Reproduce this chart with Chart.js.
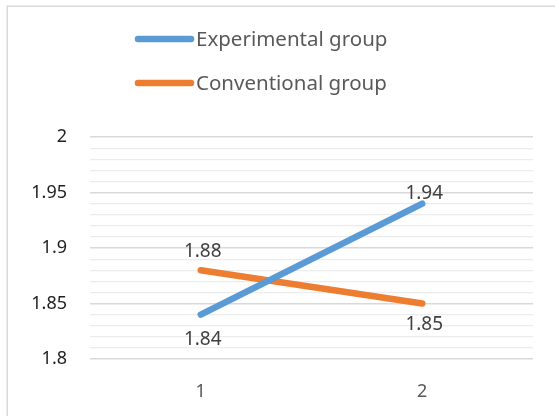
<!DOCTYPE html>
<html>
<head>
<meta charset="utf-8">
<script src="https://cdn.jsdelivr.net/npm/chart.js@4.4.1/dist/chart.umd.min.js"></script>
<style>
  html, body { margin: 0; padding: 0; background: #ffffff; overflow: hidden; }
  canvas { display: block; }
</style>
</head>
<body>
<canvas id="chart" width="555" height="416"></canvas>
<script>
// Chart data
const categories = ['1', '2'];
const seriesNames = ['Experimental group', 'Conventional group'];
const experimentalValues = [1.84, 1.94];
const conventionalValues = [1.88, 1.85];
const yTickLabels = [1.8, 1.85, 1.9, 1.95, 2];

// Styling
const FONT = '"Noto Sans", "Open Sans", sans-serif';
const seriesColors = ['#5b9bd5', '#ed7d31'];
// vertical offset (px) of each value label from its point
const labelOffsets = [[25, -10], [-19, 21]];

const isMajor = v => yTickLabels.includes(Math.round(v * 100) / 100);

// Light frame around the chart
const framePlugin = {
  id: 'frame',
  beforeDraw(chart) {
    const ctx = chart.ctx;
    ctx.save();
    ctx.fillStyle = '#ffffff';
    ctx.fillRect(0, 0, chart.width, chart.height);
    ctx.strokeStyle = '#d9d9d9';
    ctx.lineWidth = 1.5;
    ctx.strokeRect(7.25, 6.25, chart.width + 20, chart.height + 20);
    ctx.restore();
  }
};

// Stacked legend with line samples
const legendPlugin = {
  id: 'stackedLegend',
  afterDraw(chart) {
    const ctx = chart.ctx;
    ctx.save();
    ctx.font = '20.5px ' + FONT;
    ctx.textBaseline = 'middle';
    ctx.textAlign = 'left';
    chart.data.datasets.forEach((ds, i) => {
      const y = 39 + i * 44;
      ctx.strokeStyle = ds.borderColor;
      ctx.lineWidth = 6.5;
      ctx.lineCap = 'round';
      ctx.beginPath();
      ctx.moveTo(138, y);
      ctx.lineTo(191, y);
      ctx.stroke();
      ctx.fillStyle = '#595959';
      ctx.fillText(ds.label, 196, y + 1);
    });
    ctx.restore();
  }
};

// Value labels next to each point
const valueLabelPlugin = {
  id: 'valueLabels',
  afterDatasetsDraw(chart) {
    const ctx = chart.ctx;
    ctx.save();
    ctx.font = '19px ' + FONT;
    ctx.fillStyle = '#404040';
    ctx.textAlign = 'center';
    ctx.textBaseline = 'middle';
    chart.data.datasets.forEach((ds, i) => {
      const meta = chart.getDatasetMeta(i);
      meta.data.forEach((pt, j) => {
        ctx.fillText(String(ds.data[j]), pt.x + 2, pt.y + labelOffsets[i][j]);
      });
    });
    ctx.restore();
  }
};

new Chart(document.getElementById('chart'), {
  type: 'line',
  data: {
    labels: categories,
    datasets: [
      {
        label: seriesNames[0],
        data: experimentalValues,
        borderColor: seriesColors[0],
        backgroundColor: seriesColors[0],
        borderWidth: 6.5,
        borderCapStyle: 'round',
        pointRadius: 0,
        tension: 0
      },
      {
        label: seriesNames[1],
        data: conventionalValues,
        borderColor: seriesColors[1],
        backgroundColor: seriesColors[1],
        borderWidth: 6.5,
        borderCapStyle: 'round',
        pointRadius: 0,
        tension: 0
      }
    ]
  },
  options: {
    responsive: false,
    animation: false,
    devicePixelRatio: 1,
    layout: { padding: { top: 137, left: 0, right: 22, bottom: 0 } },
    plugins: {
      legend: { display: false },
      tooltip: { enabled: false },
      title: { display: false }
    },
    scales: {
      x: {
        type: 'category',
        offset: true,
        grid: { display: false, drawTicks: false },
        border: { display: false },
        ticks: {
          padding: 22,
          color: '#595959',
          font: { family: FONT, size: 18 }
        },
        afterFit(scale) { scale.height = 57; }
      },
      y: {
        min: 1.8,
        max: 2,
        grid: {
          drawTicks: false,
          color: ctx => isMajor(ctx.tick.value) ? '#d9d9d9' : '#ececec',
          lineWidth: ctx => isMajor(ctx.tick.value) ? 1.6 : 1.2
        },
        border: { display: false },
        ticks: {
          stepSize: 0.01,
          autoSkip: false,
          maxTicksLimit: 40,
          padding: 23,
          color: '#1f1f1f',
          font: { family: FONT, size: 18 },
          callback: v => isMajor(v) ? String(Math.round(v * 100) / 100) : ''
        },
        afterFit(scale) { scale.width = 90; }
      }
    }
  },
  plugins: [framePlugin, legendPlugin, valueLabelPlugin]
});
</script>
</body>
</html>
